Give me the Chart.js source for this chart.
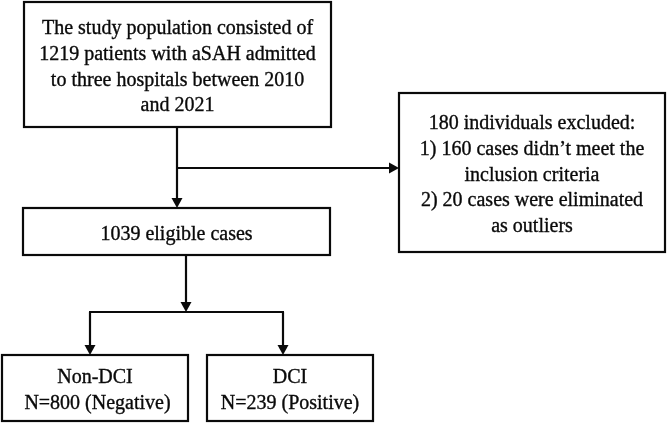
<!DOCTYPE html>
<html>
<head>
<meta charset="utf-8">
<script src="https://cdn.jsdelivr.net/npm/chart.js@4/dist/chart.umd.min.js"></script>
<style>
  html, body { margin: 0; padding: 0; background: #fff; }
  canvas { display: block; }
</style>
</head>
<body>
<canvas id="flow" width="669" height="423"></canvas>
<script>
// counts shown in the flowchart
const cohortCounts = [1219, 1039]          // study population, eligible
const cohortYears = [2010, 2021]
const hospitalCount = ['three']
const exclusionCounts = [160, 20]
const groupLabels = ['Non-DCI', 'DCI']
const groupCounts = [800, 239]
const groupOutcomes = ['Negative', 'Positive']

const excludedTotal = exclusionCounts.reduce((a, b) => a + b, 0)

// box layout in the chart's own units (x 0..669, y 0..423 top-down)
const boxes = {
  population: { x0: 24, x1: 331, y0: 2, y1: 127, lines: [
    'The study population consisted of',
    `${cohortCounts[0]} patients with aSAH admitted`,
    `to ${hospitalCount[0]} hospitals between ${cohortYears[0]}`,
    `and ${cohortYears[1]}`
  ] },
  excluded: { x0: 399, x1: 665, y0: 93, y1: 252, lines: [
    `${excludedTotal} individuals excluded:`,
    `1) ${exclusionCounts[0]} cases didn\u2019t meet the`,
    'inclusion criteria',
    `2) ${exclusionCounts[1]} cases were eliminated`,
    'as outliers'
  ] },
  eligible: { x0: 23, x1: 330, y0: 208, y1: 255, lines: [`${cohortCounts[1]} eligible cases`] },
  nonDci: { x0: 2, x1: 188, y0: 355, y1: 421, lines: [groupLabels[0], ` N=${groupCounts[0]} (${groupOutcomes[0]})`] },
  dci: { x0: 207, x1: 373, y0: 355, y1: 421, lines: [groupLabels[1], `N=${groupCounts[1]} (${groupOutcomes[1]})`] }
}

// connector segments [x0, y0, x1, y1, arrow]
const links = [
  [177, 127, 177, 208, true],
  [177, 168, 399, 168, true],
  [186, 255, 186, 312, true],
  [89, 312, 284, 312, false],
  [90, 312, 90, 355, true],
  [283, 312, 283, 355, true]
]

const ink = '#0a0a0a'
const lineHeight = 25.7

const flowPlugin = {
  id: 'flow',
  afterDraw(chart) {
    const { ctx } = chart
    const sx = chart.scales.x, sy = chart.scales.y
    const px = v => sx.getPixelForValue(v)
    const py = v => sy.getPixelForValue(v)

    ctx.save()
    ctx.strokeStyle = ink
    ctx.fillStyle = ink

    Object.values(boxes).forEach(b => {
      const x0 = px(b.x0), x1 = px(b.x1), y0 = py(b.y0), y1 = py(b.y1)
      ctx.lineWidth = 2.2
      ctx.strokeRect(x0, y0, x1 - x0, y1 - y0)
      ctx.font = '20px "Liberation Serif", "Times New Roman", serif'
      ctx.textAlign = 'center'
      ctx.textBaseline = 'middle'
      ctx.lineWidth = 0.35
      const cx = (x0 + x1) / 2
      const cy = (y0 + y1) / 2 + 3
      const start = cy - (b.lines.length - 1) * lineHeight / 2
      b.lines.forEach((t, i) => {
        ctx.fillText(t, cx, start + i * lineHeight)
        ctx.strokeText(t, cx, start + i * lineHeight)
      })
    })

    ctx.lineWidth = 2.2
    links.forEach(([ax, ay, bx, by, arrow]) => {
      const x0 = px(ax), y0 = py(ay), x1 = px(bx), y1 = py(by)
      const ang = Math.atan2(y1 - y0, x1 - x0)
      const head = arrow ? 10 : 0
      ctx.beginPath()
      ctx.moveTo(x0, y0)
      ctx.lineTo(x1 - Math.cos(ang) * head, y1 - Math.sin(ang) * head)
      ctx.stroke()
      if (arrow) {
        ctx.beginPath()
        ctx.moveTo(x1, y1)
        ctx.lineTo(x1 - Math.cos(ang) * head - Math.sin(ang) * 5.5, y1 - Math.sin(ang) * head + Math.cos(ang) * 5.5)
        ctx.lineTo(x1 - Math.cos(ang) * head + Math.sin(ang) * 5.5, y1 - Math.sin(ang) * head - Math.cos(ang) * 5.5)
        ctx.closePath()
        ctx.fill()
      }
    })
    ctx.restore()
  }
}

new Chart(document.getElementById('flow').getContext('2d'), {
  type: 'scatter',
  data: { datasets: [] },
  options: {
    responsive: false,
    animation: false,
    layout: { padding: 0 },
    plugins: { legend: { display: false }, tooltip: { enabled: false } },
    scales: {
      x: { type: 'linear', min: 0, max: 669, display: false },
      y: { type: 'linear', min: 0, max: 423, reverse: true, display: false }
    }
  },
  plugins: [flowPlugin]
})
</script>
</body>
</html>
